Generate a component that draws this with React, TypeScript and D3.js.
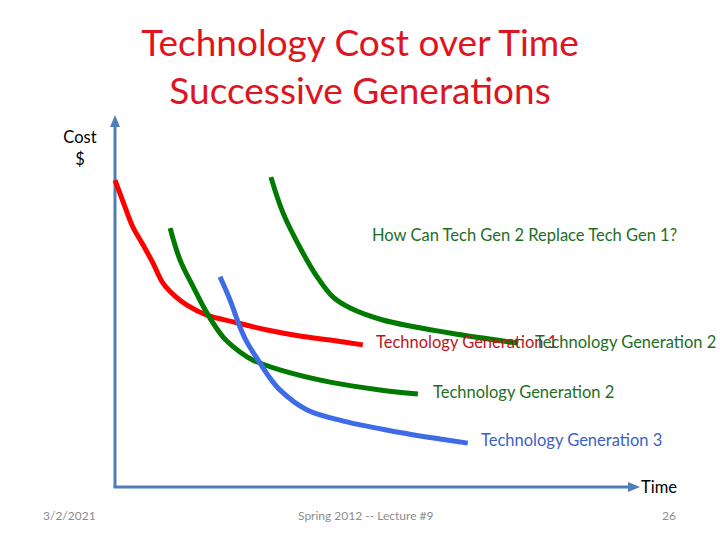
import React from "react";
import * as d3 from "d3";

// Data (abstract units: time 0..100, cost 0..100)
const gen1Time = [0, 1.9, 3.4, 5.14, 7.24, 9.14, 11.43, 13.71, 17.5, 22.5, 29.0, 35.2, 41.0, 47.2];
const gen1Cost = [82.5, 75.3, 69.9, 65.6, 60.2, 54.8, 51.3, 48.9, 46.2, 44.4, 42.2, 40.6, 39.5, 38.2];

const gen2aTime = [10.5, 12.4, 14.9, 17.5, 20.6, 23.8, 26.3, 31.4, 41.0, 50.5, 57.7];
const gen2aCost = [69.6, 61.0, 53.8, 46.8, 40.3, 36.3, 34.1, 31.5, 28.2, 26.1, 25.0];

const gen3Time = [20.0, 21.9, 23.8, 25.1, 27.0, 29.1, 31.4, 36.6, 44.2, 53.7, 61.9, 67.2];
const gen3Cost = [56.5, 50.3, 43.0, 39.0, 34.7, 30.1, 26.1, 20.7, 17.5, 14.8, 12.9, 11.8];

const gen2bTime = [29.7, 32.0, 35.8, 38.5, 41.5, 44.8, 51.0, 63.8, 76.8];
const gen2bCost = [83.3, 73.7, 62.9, 56.5, 51.1, 48.1, 44.9, 41.4, 38.7];

const titleLines = ["Technology Cost over Time", "Successive Generations"];
const footerLeft = "3/2/2021";
const footerMid = "Spring 2012 -- Lecture #9";
const footerRight = "26";

const W = 720;
const H = 540;
const FONT = "Lato, 'Open Sans', sans-serif";

const x = d3.scaleLinear().domain([0, 100]).range([115, 640]);
const y = d3.scaleLinear().domain([0, 100]).range([487, 115]);

const line = d3
  .line<[number, number]>()
  .x((d) => x(d[0]))
  .y((d) => y(d[1]))
  .curve(d3.curveCatmullRom.alpha(0.5));

const zip = (a: number[], b: number[]) => a.map((v, i) => [v, b[i]] as [number, number]);

const series = [
  { t: gen1Time, c: gen1Cost, color: "#FF0000" },
  { t: gen2aTime, c: gen2aCost, color: "#007A00" },
  { t: gen2bTime, c: gen2bCost, color: "#007A00" },
  { t: gen3Time, c: gen3Cost, color: "#3E6BE6" },
];

export default function App() {
  const axisColor = "#4F7DB8";
  const x0 = x(0);
  const y0 = y(0);
  const yTop = y(100);
  const xEnd = x(100);
  return (
    <svg
      width={W}
      height={H}
      style={{ position: "absolute", left: 0, top: 0, background: "#fff" }}
      fontFamily={FONT}
    >
      <rect width={W} height={H} fill="#fff" />
      {/* title */}
      <text x={360} y={56} textAnchor="middle" fontSize={37} fill="#E0141E">
        {titleLines[0]}
      </text>
      <text x={360} y={104} textAnchor="middle" fontSize={37} fill="#E0141E">
        {titleLines[1]}
      </text>

      {/* axes */}
      <line x1={x0} y1={y0} x2={x0} y2={yTop + 10} stroke={axisColor} strokeWidth={3} />
      <path d={`M${x0},${yTop} L${x0 - 5},${yTop + 12} L${x0 + 5},${yTop + 12} Z`} fill={axisColor} />
      <line x1={x0 - 1.5} y1={y0} x2={xEnd - 10} y2={y0} stroke={axisColor} strokeWidth={3} />
      <path d={`M${xEnd},${y0} L${xEnd - 12},${y0 - 5} L${xEnd - 12},${y0 + 5} Z`} fill={axisColor} />

      <text x={80} y={143} textAnchor="middle" fontSize={16.5} fill="#000">Cost</text>
      <text x={80} y={165} textAnchor="middle" fontSize={16.5} fill="#000">$</text>
      <text x={641} y={493} fontSize={16.5} fill="#000">Time</text>

      {/* curves */}
      {series.map((s, i) => (
        <path
          key={i}
          d={line(zip(s.t, s.c)) || ""}
          fill="none"
          stroke={s.color}
          strokeWidth={5}
          strokeLinecap="butt"
        />
      ))}

      {/* labels */}
      <text x={372} y={241} fontSize={16.5} fill="#1E6E1E">How Can Tech Gen 2 Replace Tech Gen 1?</text>
      <text x={376} y={348} fontSize={16.5} fill="#C0141C">Technology Generation 1</text>
      <text x={535} y={348} fontSize={16.5} fill="#1E6E1E">Technology Generation 2</text>
      <text x={433} y={398} fontSize={16.5} fill="#1E6E1E">Technology Generation 2</text>
      <text x={481} y={446} fontSize={16.5} fill="#3C5FC4">Technology Generation 3</text>

      {/* footer */}
      <text x={43} y={520} fontSize={12} fill="#8C8C8C">{footerLeft}</text>
      <text x={298} y={520} fontSize={12} fill="#8C8C8C">{footerMid}</text>
      <text x={676} y={520} fontSize={12} fill="#8C8C8C" textAnchor="end">{footerRight}</text>
    </svg>
  );
}
